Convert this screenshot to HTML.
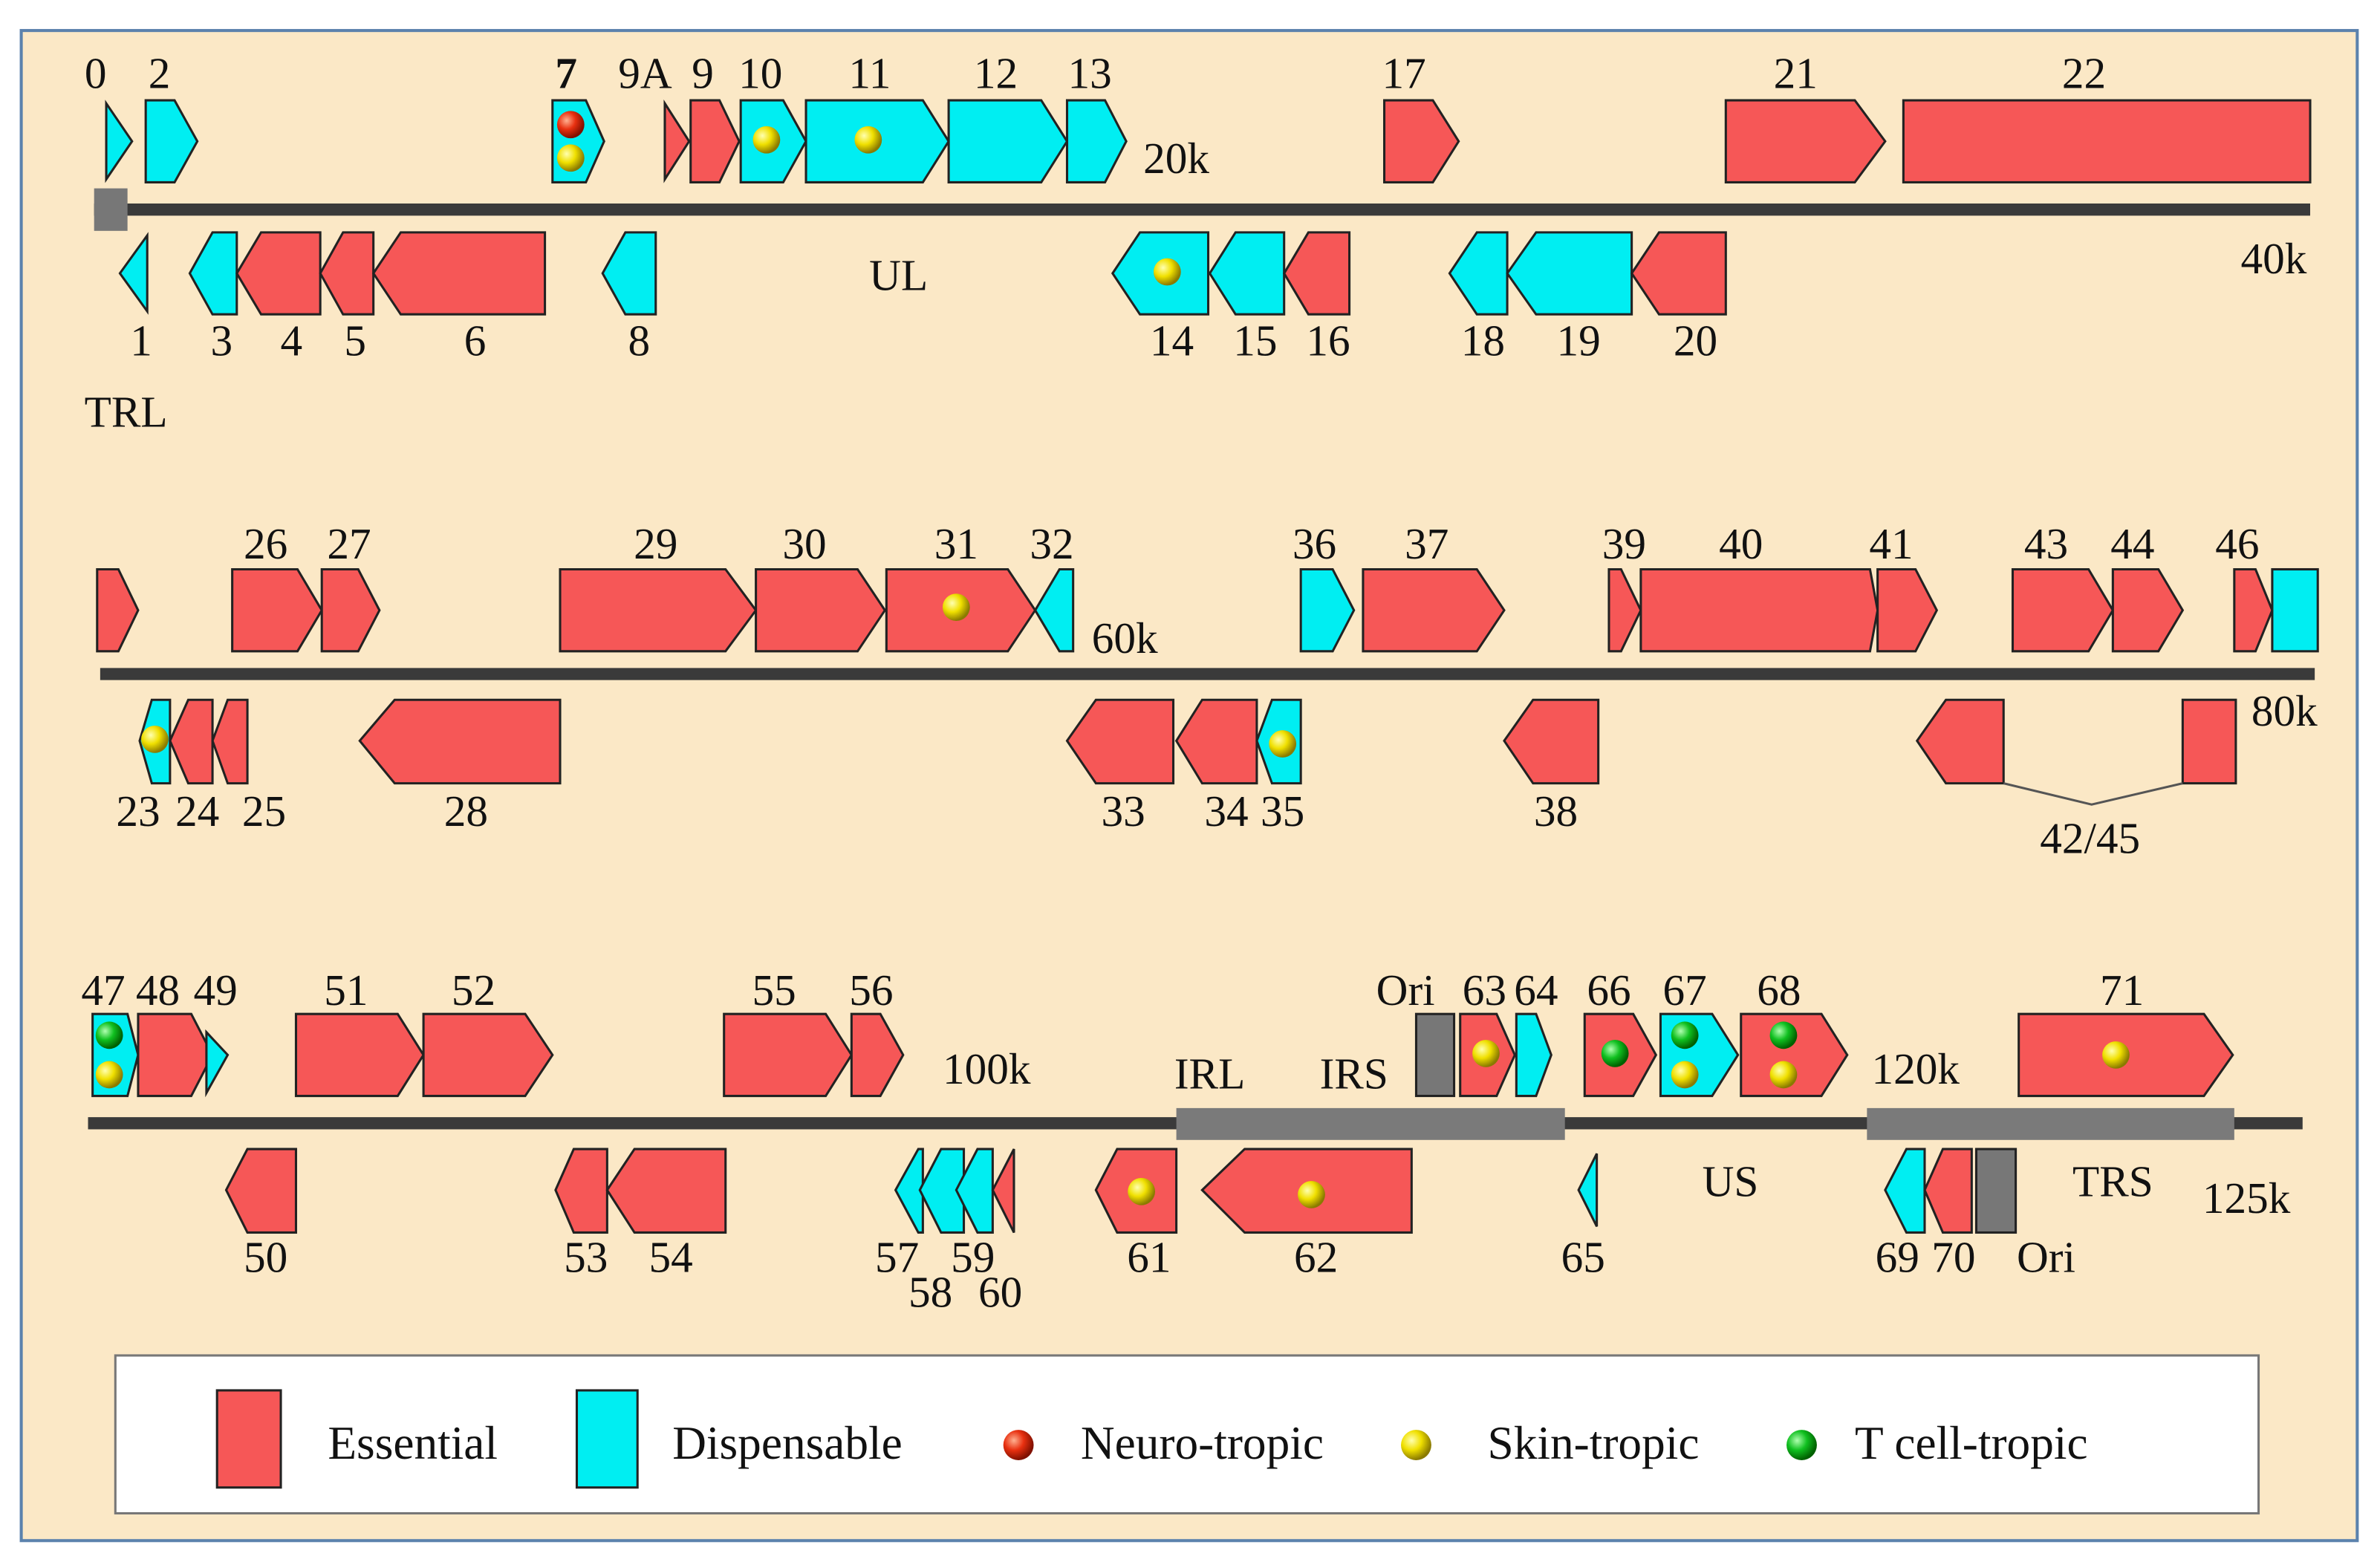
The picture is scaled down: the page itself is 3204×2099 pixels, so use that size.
<!DOCTYPE html>
<html><head><meta charset="utf-8">
<style>
html,body{margin:0;padding:0;background:#fff;}
svg{display:block;}
text{font-family:"Liberation Serif",serif;font-size:29px;fill:#111;}
.r{fill:#f65757;stroke:#222;stroke-width:1.5;}
.c{fill:#00eef2;stroke:#222;stroke-width:1.5;}
.g{fill:#777;stroke:#222;stroke-width:1.5;}
.bb{stroke:#3a3a3a;stroke-width:8;}
</style></head>
<body>
<svg width="3204" height="2099" viewBox="0 0 1568 1027" xmlns="http://www.w3.org/2000/svg">
<defs>
<radialGradient id="gy" cx="35%" cy="35%" r="65%"><stop offset="0" stop-color="#ffffb0"/><stop offset="0.5" stop-color="#f0e000"/><stop offset="1" stop-color="#8a7a00"/></radialGradient>
<radialGradient id="gr" cx="35%" cy="35%" r="65%"><stop offset="0" stop-color="#ffb090"/><stop offset="0.5" stop-color="#e83010"/><stop offset="1" stop-color="#801000"/></radialGradient>
<radialGradient id="gg" cx="35%" cy="35%" r="65%"><stop offset="0" stop-color="#b0ffb0"/><stop offset="0.5" stop-color="#10c020"/><stop offset="1" stop-color="#006000"/></radialGradient>
</defs>
<rect x="0" y="0" width="1568" height="1027" fill="#fff"/>
<rect x="14" y="20" width="1539" height="995" fill="#fbe8c6" stroke="#5b82ad" stroke-width="2"/>

<!-- ROW 1 -->
<line class="bb" x1="62" y1="138" x2="1522" y2="138"/>
<rect class="g" x="62" y="124" width="22" height="28" style="stroke:none"/>
<polygon class="c" points="70,68 87,93 70,118"/>
<polygon class="c" points="96,66 115,66 130,93 115,120 96,120"/>
<polygon class="c" points="364,66 386,66 398,93 386,120 364,120"/>
<polygon class="r" points="438,68 454,93 438,118"/>
<polygon class="r" points="455,66 474,66 487,93 474,120 455,120"/>
<polygon class="c" points="488,66 516,66 531,93 516,120 488,120"/>
<polygon class="c" points="531,66 608,66 625,93 608,120 531,120"/>
<polygon class="c" points="625,66 686,66 703,93 686,120 625,120"/>
<polygon class="c" points="703,66 728,66 742,93 728,120 703,120"/>
<polygon class="r" points="912,66 944,66 961,93 944,120 912,120"/>
<polygon class="r" points="1137,66 1222,66 1242,93 1222,120 1137,120"/>
<rect class="r" x="1254" y="66" width="268" height="54"/>
<polygon class="c" points="79,180 97,155 97,205"/>
<polygon class="c" points="125,180 140,153 156,153 156,207 140,207"/>
<polygon class="r" points="156,180 172,153 211,153 211,207 172,207"/>
<polygon class="r" points="211,180 226,153 246,153 246,207 226,207"/>
<polygon class="r" points="246,180 264,153 359,153 359,207 264,207"/>
<polygon class="c" points="397,180 412,153 432,153 432,207 412,207"/>
<polygon class="c" points="733,180 751,153 796,153 796,207 751,207"/>
<polygon class="c" points="797,180 814,153 846,153 846,207 814,207"/>
<polygon class="r" points="846,180 862,153 889,153 889,207 862,207"/>
<polygon class="c" points="955,180 973,153 993,153 993,207 973,207"/>
<polygon class="c" points="993,180 1012,153 1075,153 1075,207 1012,207"/>
<polygon class="r" points="1075,180 1093,153 1137,153 1137,207 1093,207"/>
<circle cx="376" cy="82" r="9" fill="url(#gr)"/>
<circle cx="376" cy="104" r="9" fill="url(#gy)"/>
<circle cx="505" cy="92" r="9" fill="url(#gy)"/>
<circle cx="572" cy="92" r="9" fill="url(#gy)"/>
<circle cx="769" cy="179" r="9" fill="url(#gy)"/>
<g text-anchor="middle">
<text x="63" y="58">0</text><text x="105" y="58">2</text><text x="373" y="58" font-weight="bold">7</text>
<text x="425" y="58">9A</text><text x="463" y="58">9</text><text x="501" y="58">10</text>
<text x="573" y="58">11</text><text x="656" y="58">12</text><text x="718" y="58">13</text>
<text x="925" y="58">17</text><text x="1183" y="58">21</text><text x="1373" y="58">22</text>
<text x="775" y="114">20k</text>
<text x="93" y="234">1</text><text x="146" y="234">3</text><text x="192" y="234">4</text>
<text x="234" y="234">5</text><text x="313" y="234">6</text><text x="421" y="234">8</text>
<text x="772" y="234">14</text><text x="827" y="234">15</text><text x="875" y="234">16</text>
<text x="977" y="234">18</text><text x="1040" y="234">19</text><text x="1117" y="234">20</text>
<text x="592" y="191">UL</text><text x="1498" y="180">40k</text><text x="83" y="281">TRL</text>
</g>

<!-- ROW 2 -->
<line class="bb" x1="66" y1="444" x2="1525" y2="444"/>
<polygon class="r" points="64,375 78,375 91,402 78,429 64,429"/>
<polygon class="r" points="153,375 196,375 212,402 196,429 153,429"/>
<polygon class="r" points="212,375 236,375 250,402 236,429 212,429"/>
<polygon class="r" points="369,375 478,375 498,402 478,429 369,429"/>
<polygon class="r" points="498,375 565,375 583,402 565,429 498,429"/>
<polygon class="r" points="584,375 664,375 682,402 664,429 584,429"/>
<polygon class="c" points="682,402 698,375 707,375 707,429 698,429"/>
<polygon class="c" points="857,375 878,375 892,402 878,429 857,429"/>
<polygon class="r" points="898,375 973,375 991,402 973,429 898,429"/>
<polygon class="r" points="1060,375 1068,375 1081,402 1068,429 1060,429"/>
<polygon class="r" points="1081,375 1232,375 1237,402 1232,429 1081,429"/>
<polygon class="r" points="1237,375 1262,375 1276,402 1262,429 1237,429"/>
<polygon class="r" points="1326,375 1376,375 1392,402 1376,429 1326,429"/>
<polygon class="r" points="1392,375 1422,375 1438,402 1422,429 1392,429"/>
<polygon class="r" points="1472,375 1486,375 1497,402 1486,429 1472,429"/>
<rect class="c" x="1497" y="375" width="30" height="54"/>
<polygon class="c" points="92,488 100,461 112,461 112,516 100,516"/>
<polygon class="r" points="112,488 124,461 140,461 140,516 124,516"/>
<polygon class="r" points="140,488 150,461 163,461 163,516 150,516"/>
<polygon class="r" points="237,488 260,461 369,461 369,516 260,516"/>
<polygon class="r" points="703,488 722,461 773,461 773,516 722,516"/>
<polygon class="r" points="775,488 792,461 828,461 828,516 792,516"/>
<polygon class="c" points="828,488 838,461 857,461 857,516 838,516"/>
<polygon class="r" points="991,488 1010,461 1053,461 1053,516 1010,516"/>
<polygon class="r" points="1263,488 1282,461 1320,461 1320,516 1282,516"/>
<rect class="r" x="1438" y="461" width="35" height="55"/>
<polyline points="1320,516 1378,530 1438,516" fill="none" stroke="#555" stroke-width="1.5"/>
<circle cx="630" cy="400" r="9" fill="url(#gy)"/>
<circle cx="102" cy="487" r="9" fill="url(#gy)"/>
<circle cx="845" cy="490" r="9" fill="url(#gy)"/>
<g text-anchor="middle">
<text x="175" y="368">26</text><text x="230" y="368">27</text><text x="432" y="368">29</text>
<text x="530" y="368">30</text><text x="630" y="368">31</text><text x="693" y="368">32</text>
<text x="866" y="368">36</text><text x="940" y="368">37</text><text x="1070" y="368">39</text>
<text x="1147" y="368">40</text><text x="1246" y="368">41</text><text x="1348" y="368">43</text>
<text x="1405" y="368">44</text><text x="1474" y="368">46</text>
<text x="741" y="430">60k</text><text x="1505" y="478">80k</text>
<text x="91" y="544">23</text><text x="130" y="544">24</text><text x="174" y="544">25</text>
<text x="307" y="544">28</text><text x="740" y="544">33</text><text x="808" y="544">34</text>
<text x="845" y="544">35</text><text x="1025" y="544">38</text><text x="1377" y="562">42/45</text>
</g>

<!-- ROW 3 -->
<line class="bb" x1="58" y1="740" x2="1517" y2="740"/>
<rect x="775" y="730" width="256" height="21" fill="#7a7a7a"/>
<rect x="1230" y="730" width="242" height="21" fill="#7a7a7a"/>
<polygon class="c" points="61,668 84,668 91,695 84,722 61,722"/>
<polygon class="r" points="91,668 126,668 140,695 126,722 91,722"/>
<polygon class="c" points="136,680 150,695 136,720"/>
<polygon class="r" points="195,668 262,668 279,695 262,722 195,722"/>
<polygon class="r" points="279,668 346,668 364,695 346,722 279,722"/>
<polygon class="r" points="477,668 544,668 561,695 544,722 477,722"/>
<polygon class="r" points="561,668 580,668 595,695 580,722 561,722"/>
<rect class="g" x="933" y="668" width="25" height="54"/>
<polygon class="r" points="962,668 986,668 998,695 986,722 962,722"/>
<polygon class="c" points="999,668 1012,668 1022,695 1012,722 999,722"/>
<polygon class="r" points="1044,668 1076,668 1091,695 1076,722 1044,722"/>
<polygon class="c" points="1094,668 1128,668 1145,695 1128,722 1094,722"/>
<polygon class="r" points="1147,668 1200,668 1217,695 1200,722 1147,722"/>
<polygon class="r" points="1330,668 1452,668 1471,695 1452,722 1330,722"/>
<polygon class="r" points="149,784 163,757 195,757 195,812 163,812"/>
<polygon class="r" points="366,784 378,757 400,757 400,812 378,812"/>
<polygon class="r" points="400,784 418,757 478,757 478,812 418,812"/>
<polygon class="c" points="590,784 605,757 608,757 608,812 605,812"/>
<polygon class="c" points="606,784 620,757 635,757 635,812 620,812"/>
<polygon class="c" points="630,784 644,757 654,757 654,812 644,812"/>
<polygon class="r" points="654,784 668,757 668,812"/>
<polygon class="r" points="722,784 736,757 775,757 775,812 736,812"/>
<polygon class="r" points="792,784 820,757 930,757 930,812 820,812"/>
<polygon class="c" points="1040,784 1052,760 1052,808"/>
<polygon class="c" points="1242,784 1256,757 1268,757 1268,812 1256,812"/>
<polygon class="r" points="1268,784 1280,757 1299,757 1299,812 1280,812"/>
<rect class="g" x="1302" y="757" width="26" height="55"/>
<circle cx="72" cy="682" r="9" fill="url(#gg)"/>
<circle cx="72" cy="708" r="9" fill="url(#gy)"/>
<circle cx="979" cy="694" r="9" fill="url(#gy)"/>
<circle cx="1064" cy="694" r="9" fill="url(#gg)"/>
<circle cx="1110" cy="682" r="9" fill="url(#gg)"/>
<circle cx="1110" cy="708" r="9" fill="url(#gy)"/>
<circle cx="1175" cy="682" r="9" fill="url(#gg)"/>
<circle cx="1175" cy="708" r="9" fill="url(#gy)"/>
<circle cx="1394" cy="695" r="9" fill="url(#gy)"/>
<circle cx="752" cy="785" r="9" fill="url(#gy)"/>
<circle cx="864" cy="787" r="9" fill="url(#gy)"/>
<g text-anchor="middle">
<text x="68" y="662">47</text><text x="104" y="662">48</text><text x="142" y="662">49</text>
<text x="228" y="662">51</text><text x="312" y="662">52</text><text x="510" y="662">55</text>
<text x="574" y="662">56</text><text x="926" y="662">Ori</text><text x="978" y="662">63</text>
<text x="1012" y="662">64</text><text x="1060" y="662">66</text><text x="1110" y="662">67</text>
<text x="1172" y="662">68</text><text x="1398" y="662">71</text>
<text x="650" y="714">100k</text><text x="797" y="717">IRL</text><text x="892" y="717">IRS</text>
<text x="1262" y="714">120k</text>
<text x="175" y="838">50</text><text x="386" y="838">53</text><text x="442" y="838">54</text>
<text x="591" y="838">57</text><text x="641" y="838">59</text><text x="613" y="861">58</text>
<text x="659" y="861">60</text><text x="757" y="838">61</text><text x="867" y="838">62</text>
<text x="1043" y="838">65</text><text x="1250" y="838">69</text><text x="1287" y="838">70</text>
<text x="1348" y="838">Ori</text>
<text x="1140" y="788">US</text><text x="1392" y="788">TRS</text><text x="1480" y="799">125k</text>
</g>

<!-- LEGEND -->
<rect x="76" y="893" width="1412" height="104" fill="#fff" stroke="#777" stroke-width="1.5"/>
<rect class="r" x="143" y="916" width="42" height="64"/>
<rect class="c" x="380" y="916" width="40" height="64"/>
<circle cx="671" cy="952" r="10" fill="url(#gr)"/>
<circle cx="933" cy="952" r="10" fill="url(#gy)"/>
<circle cx="1187" cy="952" r="10" fill="url(#gg)"/>
<text x="216" y="961" style="font-size:31px">Essential</text>
<text x="443" y="961" style="font-size:31px">Dispensable</text>
<text x="712" y="961" style="font-size:31px">Neuro-tropic</text>
<text x="980" y="961" style="font-size:31px">Skin-tropic</text>
<text x="1222" y="961" style="font-size:31px">T cell-tropic</text>
</svg>
</body></html>
